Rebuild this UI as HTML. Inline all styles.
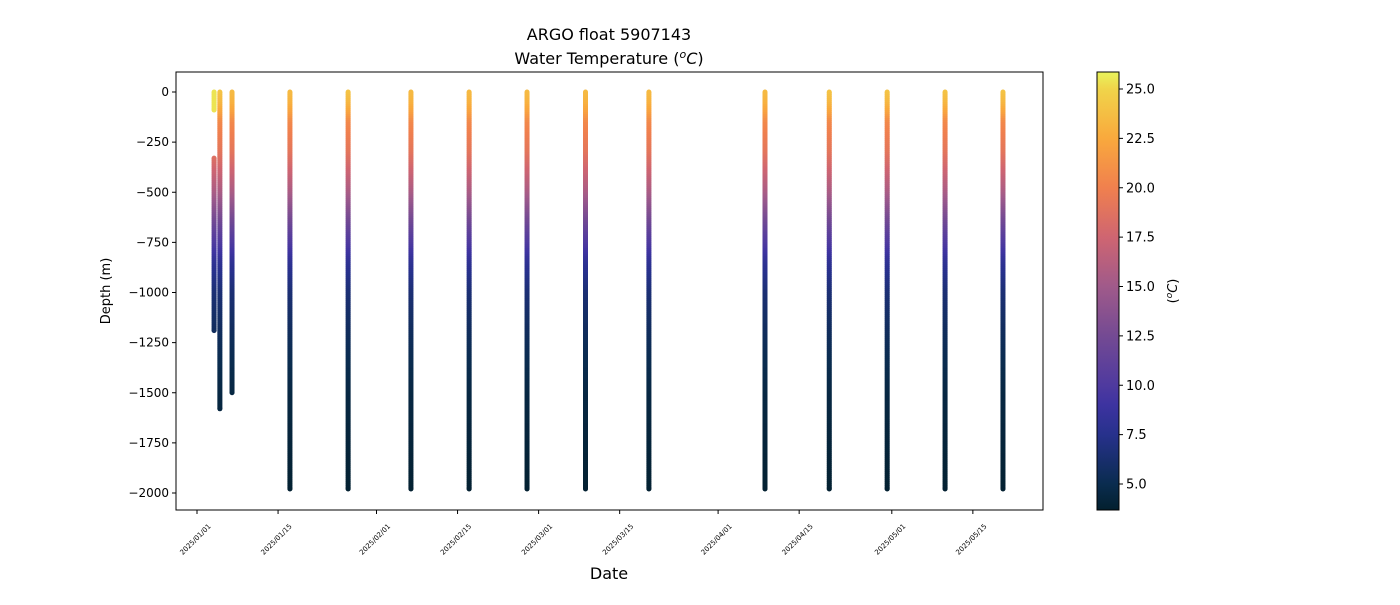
<!DOCTYPE html>
<html><head><meta charset="utf-8"><style>
body{margin:0;background:#fff;font-family:"Liberation Sans","DejaVu Sans",sans-serif}
svg text{font-family:"DejaVu Sans","Liberation Sans",sans-serif}
</style></head><body>
<svg id="c" width="1400" height="600" xmlns="http://www.w3.org/2000/svg">
<defs><linearGradient id="cbg" x1="0" y1="1" x2="0" y2="0"></linearGradient></defs>
<text x="609" y="40" text-anchor="middle" font-size="16">ARGO float 5907143</text>
<text x="609" y="64" text-anchor="middle" font-size="16">Water Temperature (<tspan font-style="italic" dy="-6" font-size="11">o</tspan><tspan dy="6" font-style="italic">C</tspan>)</text>
<g id="marks"></g>
<rect x="176" y="72" width="867" height="438" fill="none" stroke="#000" stroke-width="1"/>
<g id="axes"></g>
<text x="609" y="579" text-anchor="middle" font-size="16">Date</text>
<text transform="translate(110,291) rotate(-90)" text-anchor="middle" font-size="13">Depth (m)</text>
<rect x="1097" y="72" width="22" height="438" fill="url(#cbg)" stroke="#000" stroke-width="1"/>
<text transform="translate(1177,291) rotate(-90)" text-anchor="middle" font-size="13">(<tspan font-style="italic" dy="-5" font-size="9">o</tspan><tspan font-style="italic" dy="5">C</tspan>)</text>
</svg>
<script>
// profile data
const profileDays=[2.95,3.95,6.05,16.05,26.1,36.95,47,57,67.1,78.05,98.1,109.2,119.2,129.2,139.2];
const profileTop=[-330,0,0,0,0,0,0,0,0,0,0,0,0,0,0];
const profileBottom=[-1190,-1580,-1500,-1980,-1980,-1980,-1980,-1980,-1980,-1980,-1980,-1980,-1980,-1980,-1980];
const surfaceTemp=[25,24,23.5,23.5,24,23.5,23.5,23.5,23.5,23.5,23.5,24,24,24,24];
const extraDays=[2.95];const extraTop=[0];const extraBottom=[-90];const extraTemp=[25.5];
const profDepths=[0,-50,-100,-150,-300,-500,-700,-850,-1000,-1200,-1500,-2000];
const profTemps=[25,24,22.5,20.5,19,15.5,11,8,6.5,5.5,4.5,3.8];
const yTicks=[0,-250,-500,-750,-1000,-1250,-1500,-1750,-2000];
const xTickDays=[0,14,31,45,59,73,90,104,120,134];
const xTickLabels=["2025/01/01","2025/01/15","2025/02/01","2025/02/15","2025/03/01","2025/03/15","2025/04/01","2025/04/15","2025/05/01","2025/05/15"];
const cbTicks=[5,7.5,10,12.5,15,17.5,20,22.5,25];
const cmapT=[3.7,5,7.5,9,10,12.5,15,17.5,20,22.5,25,26];
const cmapC=["#03202f","#0a2c4f","#27318c","#3d33a0","#4f3a9f","#744a93","#a05a8a","#cf6571","#f0804e","#f9a93d","#f0d44a","#e8f45c"];
const NS="http://www.w3.org/2000/svg";
const X=d=>197+d*5.79, Y=z=>92+(-z)*0.2005, CB=t=>89+(25-t)*19.75;
function hex(h){return [1,3,5].map(i=>parseInt(h.substr(i,2),16));}
function color(t){t=Math.max(3.7,Math.min(26,t));for(let i=0;i<cmapT.length-1;i++){if(t<=cmapT[i+1]){const f=(t-cmapT[i])/(cmapT[i+1]-cmapT[i]);const a=hex(cmapC[i]),b=hex(cmapC[i+1]);return "rgb("+a.map((v,k)=>Math.round(v+(b[k]-v)*f)).join(",")+")";}}return cmapC[cmapC.length-1];}
function temp(z,s){for(let i=0;i<profDepths.length-1;i++){if(z>=profDepths[i+1]){const f=(profDepths[i]-z)/(profDepths[i]-profDepths[i+1]);let t=profTemps[i]+(profTemps[i+1]-profTemps[i])*f;if(i<3)t+= (s-25)*(1-z/-150);return t;}}return 3.8;}
function el(n,a,p){const e=document.createElementNS(NS,n);for(const k in a)e.setAttribute(k,a[k]);(p||document.getElementById('c')).appendChild(e);return e;}
const marks=document.getElementById('marks');
function drawProfile(d,top,bot,s,fixed,idx){
 const g=el('g',{},marks);
 
 
 const x=X(d);
 el('line',{x1:x,x2:x,y1:Y(top),y2:Y(top)+0.01,stroke:color(fixed!=null?fixed:temp(top,s)),'stroke-width':5,'stroke-linecap':'round'},g);
 el('line',{x1:x,x2:x,y1:Y(bot),y2:Y(bot)+0.01,stroke:color(fixed!=null?fixed:temp(bot,s)),'stroke-width':5,'stroke-linecap':'round'},g);
 for(let z=top;z>bot;z-=10){const z2=Math.max(bot,z-10);
  el('line',{x1:x,x2:x,y1:Y(z),y2:Y(z2)+0.5,stroke:color(fixed!=null?fixed:temp((z+z2)/2,s)),'stroke-width':5},g);}
}
profileDays.forEach((d,i)=>drawProfile(d,profileTop[i],profileBottom[i],surfaceTemp[i],null,i));
extraDays.forEach((d,i)=>drawProfile(d,extraTop[i],extraBottom[i],25,extraTemp[i],'extra-'+i));
const ax=document.getElementById('axes');
yTicks.forEach(v=>{const y=Y(v);
 el('line',{x1:172,x2:176,y1:y,y2:y,stroke:'#000'},ax);
 const t=el('text',{x:169,y:y+4,'text-anchor':'end','font-size':12},ax);t.textContent=v===0?'0':'\u2212'+(-v);
 
 });
xTickDays.forEach((d,i)=>{const x=X(d);
 el('line',{x1:x,x2:x,y1:510,y2:514,stroke:'#000'},ax);
 const t=el('text',{transform:`translate(${x},${541}) rotate(-45)`,'text-anchor':'middle','font-size':7},ax);t.textContent=xTickLabels[i];
 
 });
const gr=document.getElementById('cbg');
cmapT.forEach((t,i)=>el('stop',{offset:((t-3.68)/(25.86-3.68)),'stop-color':cmapC[i]},gr));
cbTicks.forEach(v=>{const y=CB(v);
 el('line',{x1:1119,x2:1123,y1:y,y2:y,stroke:'#000'},ax);
 const t=el('text',{x:1126,y:y+4.5,'font-size':13},ax);t.textContent=v.toFixed(1);
 
 });
</script>
</body></html>
